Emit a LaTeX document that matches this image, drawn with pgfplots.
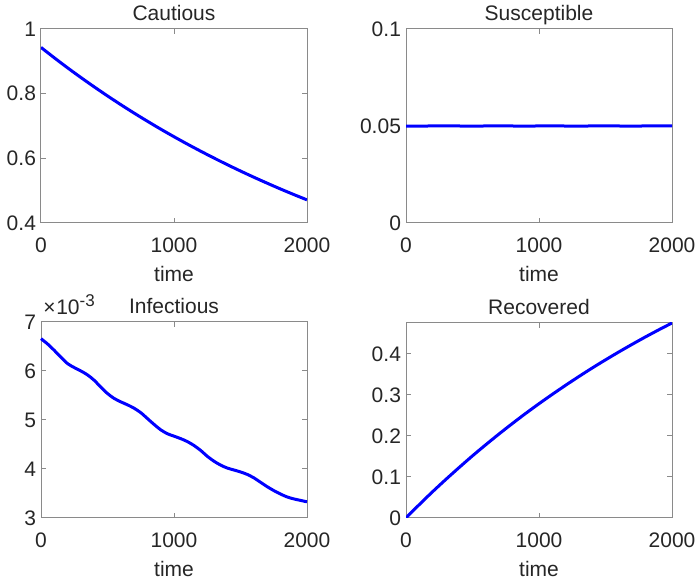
\documentclass[border=0pt]{standalone}
\usepackage{fontspec}
\setmainfont{Liberation Sans}
\usepackage{pgfplots}
\pgfplotsset{compat=1.18}
\definecolor{axgray}{HTML}{8A8A8A}
\definecolor{txt}{HTML}{262626}

\pgfplotsset{
  mpanel/.style={
    scale only axis, width=133pt, height=97pt,
    xmin=0, xmax=2000, xtick={0,1000,2000},
    tick pos=both, tick align=inside, major tick length=2.5pt,
    axis line style={draw=axgray, line width=0.5pt},
    every tick/.style={draw=axgray, line width=0.5pt},
    tick label style={text=txt, font=\fontsize{10.5}{12}\selectfont},
    /pgf/number format/1000 sep={},
    /pgf/number format/assume math mode=true,
    scaled ticks=false,
    xticklabel style={anchor=base, yshift=-15pt},
    yticklabel style={xshift=1pt},
    xlabel={time},
    every axis x label/.style={at={(axis description cs:0.5,0)}, anchor=base, yshift=-29.3pt},
    label style={text=txt, font=\fontsize{10.5}{12}\selectfont},
    every axis title/.style={at={(0.5,1)}, anchor=base, yshift=4pt},
    title style={text=txt, font=\fontsize{10.5}{12}\selectfont},
    anchor=south west,
  },
  mline/.style={blue, line width=1.5pt, smooth, no markers},
}

\begin{document}
\begin{tikzpicture}
\useasboundingbox (0pt,0pt) rectangle (350pt,290.5pt);

% Cautious
\begin{axis}[mpanel, at={(20.5pt,179pt)}, title={Cautious},
  ymin=0.4, ymax=1, ytick={0.4,0.6,0.8,1}]
\addplot[mline] coordinates {
(0,0.943) (100,0.9109) (200,0.8798) (300,0.8499) (400,0.8210) (500,0.7930)
(600,0.7660) (700,0.7399) (800,0.7147) (900,0.6903) (1000,0.6668)
(1100,0.6441) (1200,0.6222) (1300,0.6010) (1400,0.5805) (1500,0.5607)
(1600,0.5416) (1700,0.5232) (1800,0.5053) (1900,0.4881) (2000,0.4715)
};
\end{axis}

% Susceptible
\begin{axis}[mpanel, at={(203pt,179pt)}, title={Susceptible},
  ymin=0, ymax=0.1, ytick={0,0.05,0.1},
  yticklabel style={/pgf/number format/fixed, /pgf/number format/precision=3}]
\addplot[mline] coordinates {
(0,0.04995) (100,0.04990) (200,0.05005) (300,0.05012) (400,0.05000)
(500,0.04988) (600,0.05002) (700,0.05012) (800,0.05000) (900,0.04990)
(1000,0.05003) (1100,0.05010) (1200,0.04998) (1300,0.04990) (1400,0.05004)
(1500,0.05012) (1600,0.05000) (1700,0.04990) (1800,0.05003) (1900,0.05008)
(2000,0.05002)
};
\end{axis}

% Infectious (values in units of 1e-3)
\begin{axis}[mpanel, at={(20.5pt,31.5pt)}, height=98pt, title={Infectious},
  ymin=3, ymax=7, ytick={3,4,5,6,7}, clip=false]
\addplot[mline] coordinates {
(0,6.66) (50,6.55) (100,6.42) (150,6.28) (200,6.15) (250,6.07) (300,6.00)
(350,5.92) (400,5.81) (450,5.67) (500,5.54) (550,5.44) (600,5.37) (650,5.31)
(700,5.24) (750,5.15) (800,5.03) (850,4.91) (900,4.80) (950,4.72) (1000,4.67)
(1050,4.62) (1100,4.56) (1150,4.48) (1200,4.38) (1250,4.26) (1300,4.16)
(1350,4.08) (1400,4.02) (1450,3.98) (1500,3.94) (1550,3.89) (1600,3.82)
(1650,3.73) (1700,3.64) (1750,3.56) (1800,3.49) (1850,3.43) (1900,3.39)
(1950,3.36) (2000,3.33)
};
\node[anchor=base west, text=txt, font=\fontsize{10.5}{12}\selectfont, inner sep=0pt]
  at ([xshift=1pt,yshift=3.5pt]rel axis cs:0,1) {×\kern0.3pt10\raisebox{0.75ex}{\fontsize{8.5}{10}\selectfont -3}};
\end{axis}

% Recovered
\begin{axis}[mpanel, at={(203pt,31.5pt)}, height=97.5pt, title={Recovered},
  ymin=0, ymax=0.4752, ytick={0,0.1,0.2,0.3,0.4},
  yticklabel style={/pgf/number format/fixed, /pgf/number format/precision=2}]
\addplot[mline] coordinates {
(0,0.0003) (100,0.0327) (200,0.0641) (300,0.0941) (400,0.1232) (500,0.1515)
(600,0.1786) (700,0.2049) (800,0.2303) (900,0.2549) (1000,0.2785)
(1100,0.3013) (1200,0.3234) (1300,0.3448) (1400,0.3655) (1500,0.3854)
(1600,0.4046) (1700,0.4232) (1800,0.4412) (1900,0.4585) (2000,0.4752)
};
\end{axis}
\end{tikzpicture}
\end{document}
